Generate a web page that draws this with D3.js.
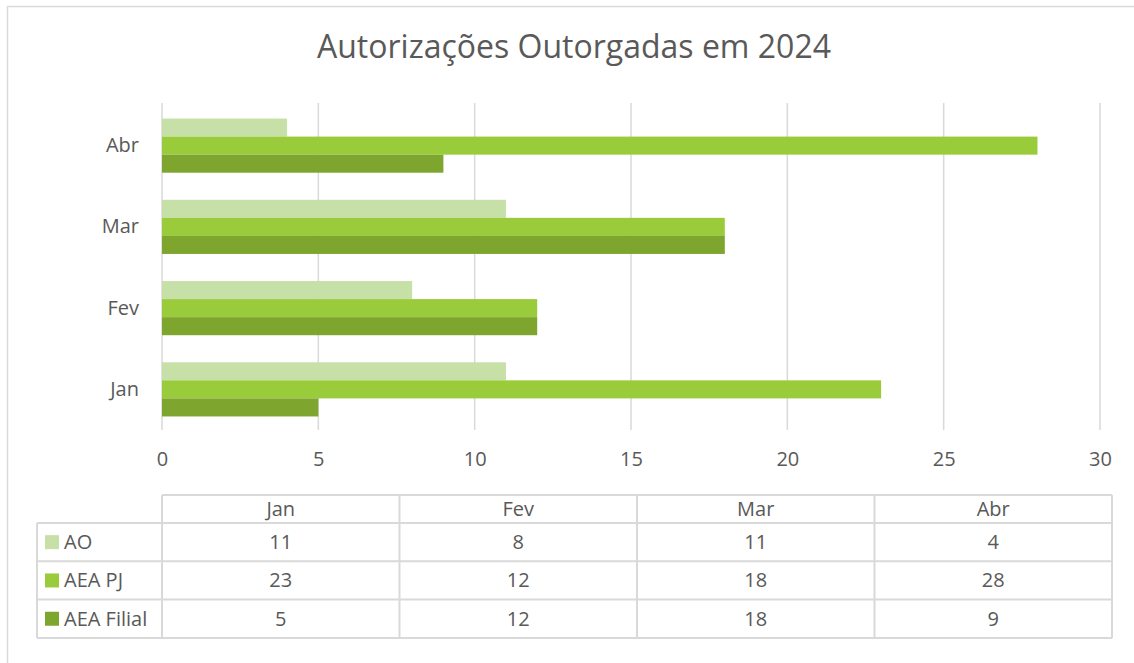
<!DOCTYPE html>
<html>
<head>
<meta charset="utf-8">
<script src="https://cdn.jsdelivr.net/npm/d3@7"></script>
<style>
  body { margin: 0; background: #fff; }
  text { font-family: "Open Sans", "Noto Sans", sans-serif; fill: #595959; }
</style>
</head>
<body>
<div id="canvas"></div>
<script>
const months = ['Jan', 'Fev', 'Mar', 'Abr']
const seriesNames = ['AO', 'AEA PJ', 'AEA Filial']
const ao = [11, 8, 11, 4]
const aeaPJ = [23, 12, 18, 28]
const aeaFilial = [5, 12, 18, 9]
const xTicks = [0, 5, 10, 15, 20, 25, 30]
const colors = ['#c6e0a7', '#9acb3a', '#7ea62e']

const values = [ao, aeaPJ, aeaFilial]
let width = 1134
let height = 663
const margin = {top: 105, left: 162, right: 34, bottom: 233}
const fs = 20

const svg = d3.select('#canvas')
            .append('svg')
            .attr('width', width)
            .attr('height', height)

// chart frame (cut off on right and bottom)
svg.append('rect')
    .attr('x', 7.5).attr('y', 6.5)
    .attr('width', 1140).attr('height', 700)
    .attr('fill', 'none').attr('stroke', '#d9d9d9').attr('stroke-width', 1.5)

svg.append('text')
    .text('Autorizações Outorgadas em 2024')
    .attr('x', 574).attr('y', 58)
    .attr('text-anchor', 'middle')
    .attr('font-size', 32)

let x = d3.scaleLinear()
        .domain([0, 30])
        .range([margin.left, width - margin.right])

// categories bottom to top
let y = d3.scaleBand()
        .domain(months.slice().reverse())
        .range([margin.top, height - margin.bottom])
        .paddingInner(1/3).paddingOuter(1/6)

let ySub = d3.scaleBand()
        .domain(seriesNames)
        .range([0, y.bandwidth()])

// gridlines
svg.append('g').selectAll('line')
    .data(xTicks).enter()
    .append('line')
    .attr('x1', d => x(d)).attr('x2', d => x(d))
    .attr('y1', margin.top - 2).attr('y2', height - margin.bottom)
    .attr('stroke', '#d9d9d9').attr('stroke-width', 1.5)

let xAxis = svg.append('g')
            .attr('transform', `translate(0, ${height - margin.bottom})`)
            .call(d3.axisBottom(x).tickValues(xTicks).tickSize(0).tickPadding(22))
xAxis.select('.domain').remove()
xAxis.selectAll('text').attr('font-size', fs).attr('fill', '#595959')
    .style('font-family', '"Open Sans", sans-serif')

let yAxis = svg.append('g')
            .attr('transform', `translate(${margin.left}, 0)`)
            .call(d3.axisLeft(y).tickSize(0).tickPadding(23))
yAxis.select('.domain').remove()
yAxis.selectAll('text').attr('font-size', fs).attr('fill', '#595959')
    .style('font-family', '"Open Sans", sans-serif')

// bars
seriesNames.forEach((s, i) => {
    svg.append('g').selectAll('rect')
        .data(months).enter()
        .append('rect')
        .attr('x', x(0))
        .attr('y', (m, j) => y(m) + ySub(s))
        .attr('width', (m, j) => x(values[i][j]) - x(0))
        .attr('height', ySub.bandwidth())
        .attr('fill', colors[i])
})

// data table
const tTop = 495, headH = 28, rowH = 38.3
const tLeft = 37
let tx = d3.scaleBand().domain(months).range([margin.left, 1112])
const tg = svg.append('g')
const lineC = '#d9d9d9'
const tBottom = tTop + headH + rowH * 3

// horizontal lines
tg.append('line').attr('x1', margin.left).attr('x2', 1112).attr('y1', tTop).attr('y2', tTop)
for (let r = 0; r <= 3; r++) {
    let yy = tTop + headH + rowH * r
    tg.append('line').attr('x1', tLeft).attr('x2', 1112).attr('y1', yy).attr('y2', yy)
}
// vertical lines
tg.append('line').attr('x1', tLeft).attr('x2', tLeft).attr('y1', tTop + headH).attr('y2', tBottom)
months.forEach(m => {
    tg.append('line').attr('x1', tx(m)).attr('x2', tx(m)).attr('y1', tTop).attr('y2', tBottom)
})
tg.append('line').attr('x1', 1112).attr('x2', 1112).attr('y1', tTop).attr('y2', tBottom)
tg.selectAll('line').attr('stroke', lineC).attr('stroke-width', 2)

tg.selectAll('text.head')
    .data(months).enter()
    .append('text')
    .attr('class', 'head')
    .text(d => d)
    .attr('x', d => tx(d) + tx.bandwidth() / 2)
    .attr('y', tTop + headH / 2 + 7)
    .attr('text-anchor', 'middle')
    .attr('font-size', fs)

seriesNames.forEach((s, i) => {
    let cy = tTop + headH + rowH * i + rowH / 2
    tg.append('rect')
        .attr('x', 45).attr('y', cy - 7).attr('width', 14).attr('height', 14)
        .attr('fill', colors[i])
    tg.append('text').text(s)
        .attr('x', 64).attr('y', cy + 7)
        .attr('font-size', fs)
    tg.selectAll('text.v' + i)
        .data(values[i]).enter()
        .append('text')
        .attr('class', 'v' + i)
        .text(d => d)
        .attr('x', (d, j) => tx(months[j]) + tx.bandwidth() / 2)
        .attr('y', cy + 7)
        .attr('text-anchor', 'middle')
        .attr('font-size', fs)
})
</script>
</body>
</html>
